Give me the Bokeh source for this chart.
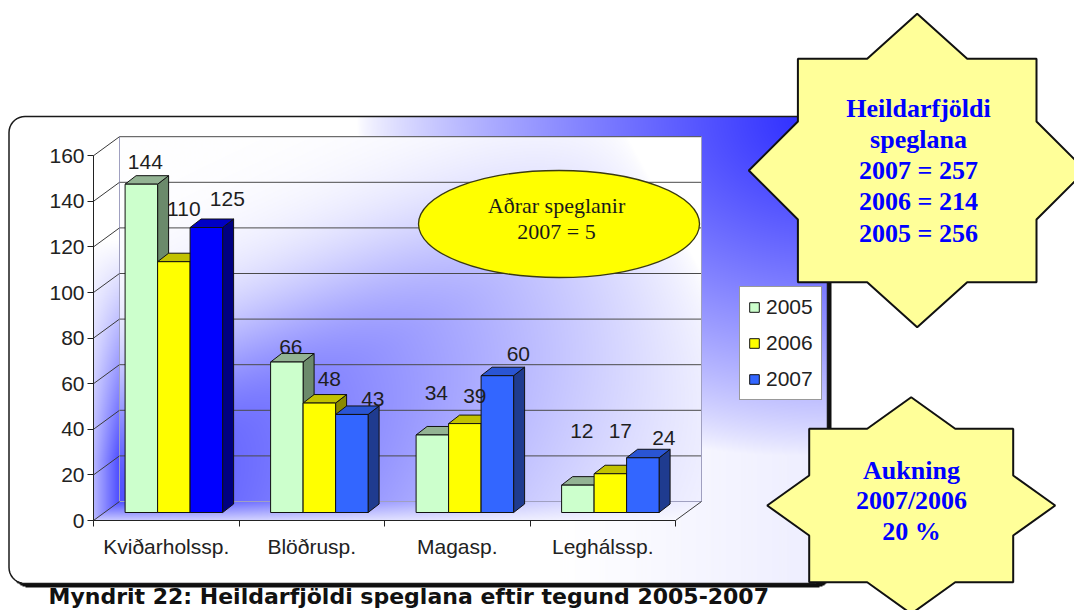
import numpy as np
from bokeh.plotting import figure
from bokeh.models import Range1d, LinearAxis, FixedTicker, Legend, LegendItem, ColumnDataSource
from bokeh.core.properties import value
from bokeh.embed import file_html
from bokeh.resources import INLINE

# ---------------- data ----------------
categories = ["Kviðarholssp.", "Blöðrusp.", "Magasp.", "Leghálssp."]
years = ["2005", "2006", "2007"]
v2005 = [144, 66, 34, 12]
v2006 = [110, 48, 39, 17]
v2007 = [125, 43, 60, 24]
y_ticks = [0, 20, 40, 60, 80, 100, 120, 140, 160]
other_lines = ["Aðrar speglanir", "2007 = 5"]
totals_lines = ["Heildarfjöldi", "speglana", "2007 = 257", "2006 = 214", "2005 = 256"]
increase_lines = ["Aukning", "2007/2006", "20 %"]
caption = "Myndrit 22:  Heildarfjöldi speglana eftir tegund 2005-2007"

# ---------------- styles ----------------
front_colors = [["#ccffcc"] * 4, ["#ffff00"] * 4, ["#0000ff", "#3366ff", "#3366ff", "#3366ff"]]
top_colors = [["#93b393"] * 4, ["#c2c200"] * 4, ["#0000c4", "#2a55d4", "#2a55d4", "#2a55d4"]]
side_colors = [["#6b8a6b"] * 4, ["#8a8a00"] * 4, ["#000080", "#1f3b8f", "#1f3b8f", "#1f3b8f"]]
label_dx_px = [4, 10, 21]                     # label shift per series (px)
label_gap_px = [[15, 8, 34, 47], [45, 17, 20, 35], [21, 8, 14, 12]]  # label lift above bar (px)
TEXT_FIX = 7.5   # baseline correction (px) for rendered text

SANS = "Liberation Sans"
SERIF = "Liberation Serif"

# ---------------- geometry (reference pixel space) ----------------
W, H = 1074, 610
M = 0
AX_L = 93.0      # x of the value axis
CAT_W = 145.5    # width of one category
Y0 = 520.0       # y of value 0 on the front axis
PPU = 2.28       # pixels per unit
WALL = (26.0, 19.0)
BAR_SHIFT = (7.6, 8.0)
BAR_W = 32.5
BAR_D = (11.0, 8.5)

xs0 = (M - AX_L) / CAT_W - 0.5
xs1 = (M + W - AX_L) / CAT_W - 0.5
ys0 = (Y0 - (M + H)) / PPU
ys1 = (Y0 - M) / PPU


def shifted(r0, r1, px, scale):
    return Range1d(r0 - px / scale, r1 - px / scale)


p = figure(width=W, height=H, x_range=Range1d(xs0, xs1), y_range=Range1d(ys0, ys1),
           x_axis_type=None, y_axis_type=None, output_backend="svg",
           toolbar_location=None, min_border=0)
p.outline_line_color = None
p.background_fill_color = "white"
p.border_fill_color = "white"
p.extra_x_ranges = {"px": Range1d(M, M + W),
                    "bx": shifted(xs0, xs1, BAR_SHIFT[0], CAT_W),
                    "wx": shifted(xs0, xs1, WALL[0], CAT_W)}
p.extra_y_ranges = {"py": Range1d(M + H, M), "pu": Range1d(0, H),
                    "by": shifted(ys0, ys1, BAR_SHIFT[1], PPU),
                    "wy": shifted(ys0, ys1, WALL[1], PPU)}

# ---------------- background (gradients) ----------------
gx, gy = np.meshgrid(np.arange(W) + M + 0.5, np.arange(H) + M + 0.5)
R = np.full((H, W), 255.0)
G = R.copy()
B = R.copy()


def paint(mask, inten, col):
    t = np.clip(inten, 0, 1)
    for ch, c in zip((R, G, B), col):
        ch[mask] = (255 * (1 - t) + c * t)[mask]


def rrect(x0, y0, x1, y1, r):
    cx = np.clip(gx, x0 + r, x1 - r)
    cy = np.clip(gy, y0 + r, y1 - r)
    return ((gx >= x0) & (gx <= x1) & (gy >= y0) & (gy <= y1)
            & ((gx - cx) ** 2 + (gy - cy) ** 2 <= r * r))


BOX = (8.5, 116.0, 827.0, 583.0)
RAD = 16.0
box = rrect(*BOX, RAD)
shadow = rrect(BOX[0] + 4, BOX[1] + 4, BOX[2] + 4, BOX[3] + 4, RAD) & ~box
paint(shadow, np.ones_like(gx), (15, 15, 15))

ro = np.sqrt(((gx - 827) / 470) ** 2 + ((gy - 116) / 350) ** 2)
Io = np.clip(1 - ro, 0, 1) ** 0.75
Io = np.maximum(Io, 0.08 * np.clip((gx - 560) / 260, 0, 1))
paint(box, Io, (40, 40, 255))

wx0, wx1 = AX_L + WALL[0], AX_L + 4 * CAT_W + WALL[0]
wyb = Y0 - WALL[1]
wyt = Y0 - WALL[1] - PPU * y_ticks[-1]


def i_back(x, y):
    rx, ry = x - wx0, y - wyb
    u = rx * 0.8762 - ry * 0.4819
    v = rx * 0.4819 + ry * 0.8762
    a = 0.85 * np.clip(1 - u / 620, 0, 1) ** 0.75
    sig = np.where(v < 0, 115.0, 260.0)
    return a * np.exp(-(v / sig) ** 2)


back = (gx >= wx0) & (gx <= wx1) & (gy >= wyt) & (gy <= wyb)
paint(back, i_back(gx, gy), (50, 50, 255))

tf = (Y0 - gy) / WALL[1]
floor = (gy >= wyb) & (gy <= Y0) & (gx >= AX_L + WALL[0] * tf) & (gx <= AX_L + 4 * CAT_W + WALL[0] * tf)
paint(floor, i_back(gx, np.full_like(gy, wyb)) * (0.3 + 0.7 * tf), (50, 50, 255))

tl = (gx - AX_L) / WALL[0]
lwall = ((gx >= AX_L) & (gx <= AX_L + WALL[0]) & (gy >= Y0 - PPU * y_ticks[-1] - WALL[1] * tl)
         & (gy <= Y0 - WALL[1] * tl))
paint(lwall, 0.85 * np.clip((gy - 240) / 220, 0, 1) * (0.4 + 0.6 * tl), (45, 45, 255))

img = np.empty((H, W), dtype=np.uint32)
view = img.view(dtype=np.uint8).reshape((H, W, 4))
view[:, :, 0] = R.astype(np.uint8)
view[:, :, 1] = G.astype(np.uint8)
view[:, :, 2] = B.astype(np.uint8)
view[:, :, 3] = 255
p.image_rgba(image=[np.flipud(img)], x=M, y=0, dw=W, dh=H, x_range_name="px", y_range_name="pu")

# box outline
ang = np.linspace(0, np.pi / 2, 10)
x0, y0, x1, y1 = BOX
ox, oy = [], []
for (cx, cy, a0) in ((x1 - RAD, y0 + RAD, -np.pi / 2), (x1 - RAD, y1 - RAD, 0),
                     (x0 + RAD, y1 - RAD, np.pi / 2), (x0 + RAD, y0 + RAD, np.pi)):
    ox += list(cx + RAD * np.cos(a0 + ang))
    oy += list(cy + RAD * np.sin(a0 + ang))
p.patch(ox, oy, fill_color=None, line_color="#1a1a1a", line_width=1.5,
        x_range_name="px", y_range_name="py")

# ---------------- walls: gridlines ----------------
grid_v = y_ticks[1:]
p.segment(x0=[-0.5] * len(grid_v), x1=[3.5] * len(grid_v), y0=grid_v, y1=grid_v,
          line_color="#4a4a4a", line_width=1, x_range_name="wx", y_range_name="wy")
p.segment(x0=[-0.5, -0.5, 3.5], x1=[3.5, -0.5, 3.5], y0=[0, 0, 0], y1=[0, y_ticks[-1], y_ticks[-1]],
          line_color="#a0a0c0", line_width=1, x_range_name="wx", y_range_name="wy")
# side wall slants from axis ticks to the back wall
p.segment(x0=[AX_L] * len(y_ticks), y0=[Y0 - PPU * t for t in y_ticks],
          x1=[AX_L + WALL[0]] * len(y_ticks), y1=[Y0 - WALL[1] - PPU * t for t in y_ticks],
          line_color="#3a3a3a", line_width=1, x_range_name="px", y_range_name="py")
p.segment(x0=[AX_L + 4 * CAT_W], y0=[Y0], x1=[AX_L + 4 * CAT_W + WALL[0]], y1=[Y0 - WALL[1]],
          line_color="#3a3a3a", line_width=1, x_range_name="px", y_range_name="py")

# ---------------- axes ----------------
yax = LinearAxis(fixed_location=-0.5, bounds=(0, y_ticks[-1]), ticker=FixedTicker(ticks=y_ticks),
                 major_tick_out=6, major_tick_in=0, minor_tick_out=0, minor_tick_in=0,
                 axis_line_color="#222222", major_tick_line_color="#222222",
                 major_label_text_font=SANS, major_label_text_font_size="21px",
                 major_label_text_color="#222222", major_label_standoff=3)
p.add_layout(yax, "left")
xax = LinearAxis(fixed_location=0, bounds=(-0.5, 3.5),
                 ticker=FixedTicker(ticks=[0, 1, 2, 3], minor_ticks=[-0.5, 0.5, 1.5, 2.5, 3.5]),
                 major_label_overrides={i: c for i, c in enumerate(categories)},
                 major_tick_line_color=None, major_tick_out=0, major_tick_in=0,
                 minor_tick_out=6, minor_tick_in=0, minor_tick_line_color="#222222",
                 axis_line_color="#222222", major_label_text_font=SANS,
                 major_label_text_font_size="21px", major_label_text_color="#222222",
                 major_label_standoff=8)
p.add_layout(xax, "below")

# ---------------- 3D bars ----------------
series = [v2005, v2006, v2007]
bw = BAR_W / CAT_W
ddx = BAR_D[0] / CAT_W
ddv = BAR_D[1] / PPU
fronts = []
label_x, label_y, label_t = [], [], []
for s, vals in enumerate(series):
    cxs = np.arange(len(categories)) + (s - 1) * bw
    left = cxs - bw / 2
    right = cxs + bw / 2
    v = np.array(vals, dtype=float)
    p.patches([[r, r + ddx, r + ddx, r] for r in right],
              [[0, ddv, h + ddv, h] for h in v],
              fill_color=side_colors[s], line_color="#111111", line_width=1,
              x_range_name="bx", y_range_name="by")
    p.patches([[l, r, r + ddx, l + ddx] for l, r in zip(left, right)],
              [[h, h, h + ddv, h + ddv] for h in v],
              fill_color=top_colors[s], line_color="#111111", line_width=1,
              x_range_name="bx", y_range_name="by")
    src = ColumnDataSource(dict(left=left, right=right, top=v, bottom=np.zeros(len(v)),
                                color=front_colors[s]))
    fr = p.quad(left="left", right="right", top="top", bottom="bottom", fill_color="color",
                line_color="#111111", line_width=1, source=src,
                x_range_name="bx", y_range_name="by")
    fronts.append(fr)
    label_x += list(cxs + label_dx_px[s] / CAT_W)
    label_y += [h + (g + TEXT_FIX) / PPU for h, g in zip(v, label_gap_px[s])]
    label_t += [str(int(h)) for h in v]

# value labels drawn after all bars
p.text(x=label_x, y=label_y, text=label_t, text_font=value(SANS), text_font_size="21px",
       text_color="#1e1e1e", text_align="center", text_baseline="alphabetic",
       x_range_name="bx", y_range_name="by")

# ---------------- ellipse note ----------------
p.ellipse(x=[558.5], y=[223.5], width=281, height=107, width_units="screen", height_units="screen",
          fill_color="#ffff00", line_color="#3a3a10", line_width=1.3,
          x_range_name="px", y_range_name="py")
p.text(x=[556, 556], y=[212 - TEXT_FIX, 238 - TEXT_FIX], text=other_lines, text_font=value(SERIF),
       text_font_size="22px", text_color="#1a1a1a", text_align="center",
       text_baseline="alphabetic", x_range_name="px", y_range_name="py")

# ---------------- legend ----------------
legend = Legend(items=[LegendItem(label=years[s], renderers=[fronts[s]], index=(1 if s == 2 else 0))
                       for s in range(3)],
                location=(739, 210), label_text_font=SANS, label_text_font_size="21px",
                label_text_color="#222222", glyph_width=12, glyph_height=12, label_height=24,
                spacing=12, padding=8, label_standoff=6, margin=0,
                border_line_color="#333333", border_line_width=1,
                background_fill_color="white", background_fill_alpha=1.0)
p.add_layout(legend, "center")


# ---------------- starbursts ----------------
def star(cx, cy, hx, hy, ox, oy, ix, iy):
    pts = [(cx, cy - oy), (cx + ix, cy - hy), (cx + hx, cy - hy), (cx + hx, cy - iy),
           (cx + ox, cy), (cx + hx, cy + iy), (cx + hx, cy + hy), (cx + ix, cy + hy),
           (cx, cy + oy), (cx - ix, cy + hy), (cx - hx, cy + hy), (cx - hx, cy + iy),
           (cx - ox, cy), (cx - hx, cy - iy), (cx - hx, cy - hy), (cx - ix, cy - hy)]
    return [q[0] for q in pts], [q[1] for q in pts]


for geom in ((916.7, 170.0, 119.3, 111.7, 168.4, 156.7, 50.0, 49.0),
             (910.7, 505.0, 102.0, 76.7, 144.0, 108.3, 44.0, 30.0)):
    sx, sy = star(*geom)
    p.patch(sx, sy, fill_color="#ffff99", line_color="#111111", line_width=2,
            x_range_name="px", y_range_name="py")

p.text(x=[918] * 5, y=[b - TEXT_FIX for b in (115, 146.5, 177, 208.5, 240)], text=totals_lines,
       text_font=value(SERIF), text_font_style="bold", text_font_size="26px", text_color="#0000ff",
       text_align="center", text_baseline="alphabetic", x_range_name="px", y_range_name="py")
p.text(x=[911] * 3, y=[b - TEXT_FIX for b in (477.7, 507.3, 538.3)], text=increase_lines,
       text_font=value(SERIF), text_font_style="bold", text_font_size="26px", text_color="#0000ff",
       text_align="center", text_baseline="alphabetic", x_range_name="px", y_range_name="py")

# ---------------- caption ----------------
p.text(x=[48], y=[596], text=[caption], text_font=value("DejaVu Sans"), text_font_style="bold",
       text_font_size="22px", text_color="#111111", text_align="left", text_baseline="alphabetic",
       x_range_name="px", y_range_name="py")

with open("out.html", "w", encoding="utf-8") as f:
    f.write(file_html(p, INLINE))
